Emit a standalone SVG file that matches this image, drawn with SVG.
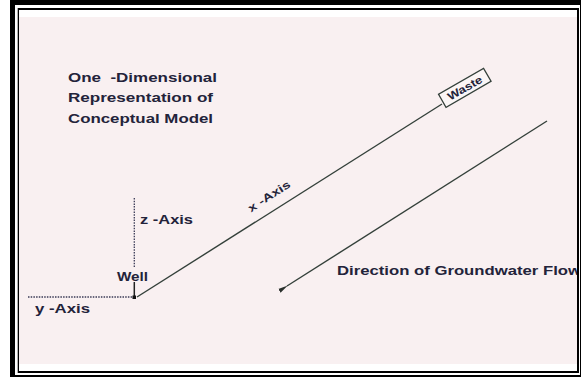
<svg xmlns="http://www.w3.org/2000/svg" width="583" height="378" viewBox="0 0 583 378">
<style>
.t{font-family:"Liberation Sans",Arial,sans-serif;font-weight:bold;fill:#23233a}
.ln{stroke:#34403a;stroke-width:1.4;fill:none}
.dot{stroke:#3a3a55;stroke-width:1.3;stroke-dasharray:1.5 1.2;fill:none}
</style>
<defs>
<clipPath id="c"><rect x="19" y="10" width="558" height="362"/></clipPath>
<marker id="ah" markerWidth="10" markerHeight="6" refX="1" refY="3" orient="auto" markerUnits="userSpaceOnUse"><path d="M0,3 L10,0.8 L10,5.2 Z" fill="#2a302c"/></marker>
</defs>
<rect width="583" height="378" fill="#fff"/>
<g id="frame">
<rect x="10" y="0" width="571" height="377" fill="#000"/>
<rect x="15" y="5" width="565" height="370" fill="#fff"/>
<rect x="17.7" y="8" width="561.3" height="365" fill="#000"/>
<rect x="19" y="10" width="558" height="361" fill="#fff"/>
<rect x="19" y="17" width="558" height="347" fill="#f9f0f1"/>
</g>
<g clip-path="url(#c)">
<g id="title">
<text class="t" x="68" y="81.5" font-size="12" textLength="149" lengthAdjust="spacingAndGlyphs">One&#160; -Dimensional</text>
<text class="t" x="68" y="102" font-size="12" textLength="145" lengthAdjust="spacingAndGlyphs">Representation of</text>
<text class="t" x="68" y="122.5" font-size="12" textLength="145" lengthAdjust="spacingAndGlyphs">Conceptual Model</text>
</g>
<g id="connectors">
<line class="ln" x1="137" y1="297" x2="442" y2="104"/>
<line class="dot" x1="134.3" y1="198" x2="134.3" y2="267"/>
<line class="dot" x1="28" y1="297" x2="134" y2="297"/>
<line x1="134.3" y1="282" x2="134.3" y2="297" stroke="#222" stroke-width="1.5"/>
<line class="ln" x1="547" y1="121" x2="287" y2="286" marker-end="url(#ah)"/>
</g>
<g id="well">
<rect x="132.5" y="295.5" width="3.5" height="3.5" fill="#111"/>
<text class="t" x="117" y="280.5" font-size="12" textLength="31" lengthAdjust="spacingAndGlyphs">Well</text>
</g>
<g id="waste">
<g transform="translate(464.8,87.8) rotate(-30)">
<rect x="-26" y="-7.5" width="52" height="15" fill="#fbf6f6" stroke="#34403a" stroke-width="1.3"/>
<text class="t" x="0" y="4" font-size="11" text-anchor="middle" textLength="38" lengthAdjust="spacingAndGlyphs">Waste</text>
</g>
</g>
<g id="labels">
<text class="t" x="140" y="223.5" font-size="12" textLength="53" lengthAdjust="spacingAndGlyphs">z -Axis</text>
<text class="t" x="35" y="312.5" font-size="12" textLength="55" lengthAdjust="spacingAndGlyphs">y -Axis</text>
<text class="t" transform="translate(269,196) rotate(-33)" x="0" y="4" font-size="11" text-anchor="middle" textLength="48" lengthAdjust="spacingAndGlyphs">x -Axis</text>
<text class="t" x="337" y="274.5" font-size="12.5" textLength="244" lengthAdjust="spacingAndGlyphs">Direction of Groundwater Flow</text>
</g>
</g>
</svg>
